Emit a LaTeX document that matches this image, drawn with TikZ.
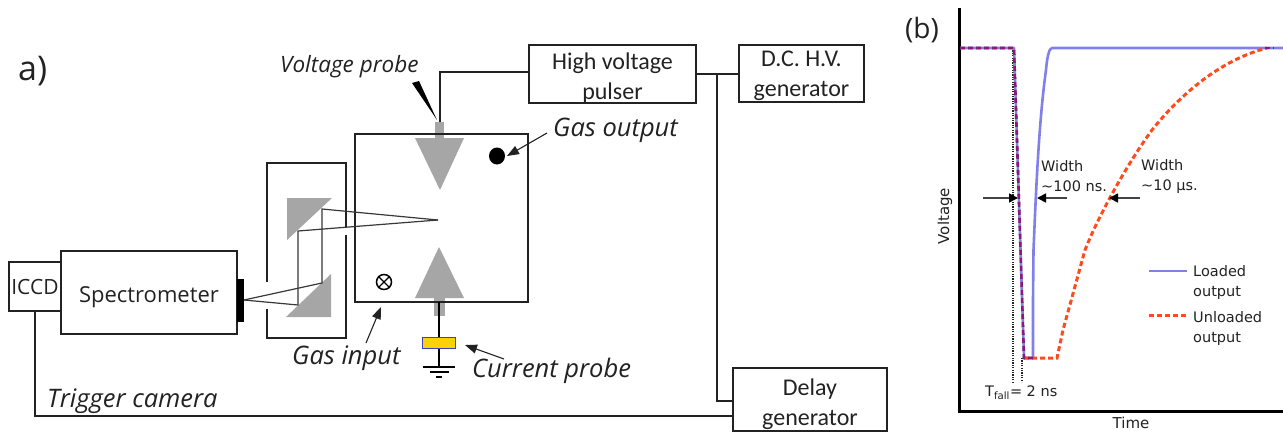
\documentclass[tikz,border=0pt]{standalone}
\usepackage{fontspec}
\setmainfont{Open Sans}
\newfontfamily\plotfont{DejaVu Sans}
\newfontfamily\boxfont{Carlito}
\usetikzlibrary{arrows.meta,shapes.geometric}
\definecolor{ink}{HTML}{222222}
\definecolor{prism}{HTML}{A6A6A6}
\definecolor{loaded}{HTML}{8080E8}
\definecolor{unloaded}{HTML}{FF4A1C}
\definecolor{both}{HTML}{8E1A6E}
\tikzset{
  wire/.style={draw=ink,line width=2pt},
  ray/.style={draw=ink!90,line width=1.2pt},
  box/.style={draw=ink,line width=2pt,inner sep=0pt,align=center,text=ink,font=\boxfont\fontsize{24}{30}\selectfont},
  ital/.style={inner sep=0pt,text=ink,font=\fontsize{25.5}{30}\selectfont\itshape,anchor=west},
  plottxt/.style={inner sep=0pt,text=ink,font=\plotfont\fontsize{14.5}{20}\selectfont,anchor=west,align=left},
  lead/.style={draw=ink,line width=1.1pt,-{Triangle[length=12pt,width=9pt]}},
  dim/.style={draw=ink!85,line width=1.6pt,-{Triangle[length=9pt,width=9pt,color=black]}},
  dotv/.style={draw=ink,line width=1.2pt,dash pattern=on 1.2pt off 1.2pt},
}
\begin{document}
\begin{tikzpicture}[x=1pt,y=-1pt]
\useasboundingbox (0,0) rectangle (1283,434);
% instruments
\node[box,minimum width=52pt,minimum height=49pt,font=\fontsize{21}{26}\selectfont] (iccd) at (35,286.5) {ICCD};
\node[box,minimum width=176pt,minimum height=83pt,font=\fontsize{22}{26}\selectfont] (spec) at (149,292.5) {\rule{0pt}{25pt}Spectrometer};
\node[box,minimum width=167pt,minimum height=56pt] (hv) at (612.5,74) {\rule{0pt}{24pt}High voltage\\pulser};
\node[box,minimum width=125pt,minimum height=57pt] (dc) at (801.5,73.5) {\rule{0pt}{21pt}D.C. H.V.\\generator};
\node[box,minimum width=154pt,minimum height=63pt] (delay) at (810,399.5) {\rule{0pt}{26pt}Delay\\generator};
\node[draw=ink,line width=2pt,minimum width=173pt,minimum height=168pt,inner sep=0pt] (cham) at (441.5,218) {};
\node[fill=black,minimum width=7pt,minimum height=43pt,inner sep=0pt] (slit) at (240.5,300.5) {};
% mirror housing with its gaps
\coordinate (hA) at (267,282); \coordinate (hB) at (267,163); \coordinate (hC) at (346,163); \coordinate (hD) at (346,227);
\coordinate (hE) at (346,235); \coordinate (hF) at (346,338); \coordinate (hG) at (267,338); \coordinate (hH) at (267,309);
\draw[wire] (hA) -- (hB) -- (hC) -- (hD);
\draw[wire] (hE) -- (hF) -- (hG) -- (hH);
% electrodes
\fill[prism] (435,122) rectangle (444,138);
\fill[prism] (434,298) rectangle (445,316);
\fill[prism] (415,138) -- (464,138) -- (440,190) -- cycle;
\fill[prism] (439,247) -- (464,298) -- (415,298) -- cycle;
\draw[draw=ink,line width=2pt] (355,134) rectangle (528,302);
% mirrors
\fill[prism] (287,198) -- (332,198) -- (287,240) -- cycle;
\fill[prism] (286,317) -- (331,317) -- (331,274) -- cycle;
% rays
\coordinate (focus) at (438,220); \coordinate (slitpt) at (244,300);
\coordinate (r1a) at (322,209); \coordinate (r1b) at (322,283);
\coordinate (r2a) at (298,231); \coordinate (r2b) at (298,305);
\draw[ray] (focus) -- (r1a) -- (r1b) -- (slitpt);
\draw[ray] (focus) -- (r2a) -- (r2b) -- (slitpt);
% wiring
\coordinate (topwire) at (440,71.5);
\coordinate (stemtop) at (440,122);
\draw[wire] (stemtop) -- (topwire) -- (topwire -| hv.west);
\coordinate (j) at (717,74);
\draw[wire] (hv.east) -- (j -| dc.west);
\coordinate (d) at (717,401);
\draw[wire] (j) -- (d) -- (d -| delay.west);
\coordinate (trigcorner) at (35,416);
\draw[wire] (iccd.south) -- (trigcorner) -- (trigcorner -| delay.west);
% voltage probe
\fill[black] (412,83) -- (419,81) -- (437,120) -- cycle;
% gas output dot
\node[fill=black,ellipse,minimum width=16pt,minimum height=17pt,inner sep=0pt] (dot) at (497,156) {};
% gas input symbol
\node[circle,draw=black,line width=1.5pt,minimum size=15pt,inner sep=0pt] (gasin) at (384,282) {};
\draw[black,line width=1.4pt] (gasin.45) -- (gasin.225) (gasin.135) -- (gasin.315);
% current probe and ground
\coordinate (cstem) at (439,302); \coordinate (gnd) at (439,367);
\draw[draw=black,line width=2.2pt] (cstem) -- (gnd);
\node[fill=yellow!70!orange,draw=blue!50!gray,line width=1pt,minimum width=33pt,minimum height=11pt,inner sep=0pt] (cp) at (438.5,342.5) {};
\draw[black,line width=1.6pt] (423,367) -- (455,367) (430,372) -- (449,372) (436,377) -- (442,377);
% labels
\node[inner sep=0pt,text=ink,font=\fontsize{34}{34}\selectfont,anchor=west] (alab) at (18,71) {a)};
\node[ital,font=\fontsize{22.5}{26}\selectfont\itshape] (vp) at (280,67) {Voltage probe};
\node[ital] (go) at (553,130) {Gas output};
\node[ital] (gi) at (292,358) {Gas input};
\node[ital] (cl) at (472,371) {Current probe};
\node[ital] (tc) at (47,401) {Trigger camera};
\coordinate (goa) at (547,133); \coordinate (goh) at (507,156);
\coordinate (gia) at (366,343); \coordinate (gih) at (381,307);
\coordinate (cla) at (504,359); \coordinate (clh) at (465,345);
\draw[lead] (goa) -- (goh);
\draw[lead] (gia) -- (gih);
\draw[lead] (cla) -- (clh);
% --- panel (b) ---
\node[inner sep=0pt,text=ink,font=\fontsize{28}{28}\selectfont,anchor=west] (blab) at (905,30) {(b)};
\coordinate (ao) at (959,411); \coordinate (ay) at (959,8); \coordinate (ax) at (1283,411);
\draw[black,line width=3pt] (ay) -- (ao) -- (ax);
\node[plottxt,font=\plotfont\fontsize{15}{16}\selectfont,anchor=center,rotate=90] (vl) at (945,216) {Voltage};
\node[plottxt,font=\plotfont\fontsize{15}{16}\selectfont,anchor=center] (tl) at (1131,423) {Time};
% guides
\coordinate (g1a) at (1013,48); \coordinate (g1b) at (1013,382);
\coordinate (g2a) at (1022,358); \coordinate (g2b) at (1022,382);
\draw[dotv] (g1a) -- (g1b);
\draw[dotv] (g2a) -- (g2b);
% curves
\draw[loaded,line width=2.6pt,line join=round] (960,48) -- (1014,48) -- (1024,358) -- (1033,358) -- (1033,300) -- (1033.5,250) .. controls (1036,190) and (1039,120) .. (1046,70) .. controls (1047,58) and (1049,48) .. (1052,48) -- (1283,48);
\draw[unloaded,line width=3pt,dash pattern=on 5pt off 3pt] (1024,358) -- (1057,358) -- (1063,330) -- (1085,250) .. controls (1100,212) and (1130,160) .. (1152,130) .. controls (1180,95) and (1220,60) .. (1267,48);
\draw[both,line width=2.6pt,dash pattern=on 5pt off 3pt] (960,48) -- (1014,48) -- (1024,358) -- (1033,358);
\draw[both,line width=2.6pt,dash pattern=on 5pt off 3pt] (1265,48) -- (1274,48);
% dimension arrows
\coordinate (da) at (983,198); \coordinate (dah) at (1018,198);
\coordinate (db) at (1067,198); \coordinate (dbh) at (1037,198);
\coordinate (dc2) at (1140,198); \coordinate (dch) at (1109,198);
\draw[dim] (da) -- (dah);
\draw[dim] (db) -- (dbh);
\draw[dim] (dc2) -- (dch);
\node[plottxt] (w1) at (1041,176) {Width\\\textasciitilde 100 ns.};
\node[plottxt] (w2) at (1141,176) {Width\\\textasciitilde 10 µs.};
\node[plottxt,font=\plotfont\fontsize{14.5}{16}\selectfont] (tf) at (985,393) {T\textsubscript{fall}= 2 ns};
% legend
\coordinate (l1a) at (1149,271); \coordinate (l1b) at (1187,271);
\coordinate (l2a) at (1149,315); \coordinate (l2b) at (1187,315);
\draw[loaded,line width=2.6pt] (l1a) -- (l1b);
\draw[unloaded,line width=3pt,dash pattern=on 5pt off 3pt] (l2a) -- (l2b);
\node[plottxt] (lg1) at (1193,282) {Loaded\\output};
\node[plottxt] (lg2) at (1193,328) {Unloaded\\output};
\end{tikzpicture}
\end{document}
